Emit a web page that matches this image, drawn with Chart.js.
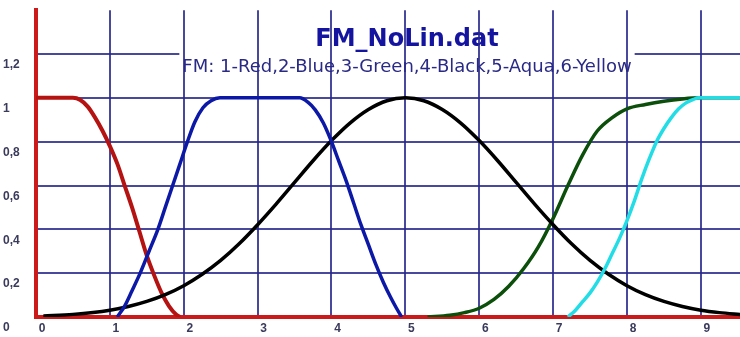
<!DOCTYPE html>
<html>
<head>
<meta charset="utf-8">
<title>FM_NoLin.dat</title>
<script src="https://cdn.jsdelivr.net/npm/chart.js@4.4.1/dist/chart.umd.min.js"></script>
<style>
  html, body { margin: 0; padding: 0; background: #fff; }
  #wrap { width: 740px; height: 337px; position: relative; }
</style>
</head>
<body>
<div id="wrap"><canvas id="fmChart"></canvas></div>
<script>
// membership functions (x -> degree)
const redX = [0, 0.5, 0.6, 0.7, 0.8, 0.9, 1.0, 1.1, 1.2, 1.3, 1.4, 1.5, 1.6, 1.7, 1.8, 1.9, 1.95];
const redY = [1, 1, 0.99, 0.96, 0.91, 0.85, 0.78, 0.7, 0.6, 0.5, 0.39, 0.28, 0.19, 0.11, 0.05, 0.01, 0];

const blueX = [1.1, 1.2, 1.3, 1.41, 1.53, 1.65, 1.75, 1.85, 1.95, 2.05, 2.15, 2.26, 2.37, 2.49,
               3.57, 3.68, 3.78, 3.89, 4.0, 4.1, 4.2, 4.3, 4.4, 4.5, 4.6, 4.7, 4.8, 4.88, 4.95];
const blueY = [0, 0.05, 0.12, 0.2, 0.3, 0.4, 0.5, 0.6, 0.7, 0.8, 0.89, 0.955, 0.987, 1,
               1, 0.98, 0.945, 0.885, 0.8, 0.71, 0.62, 0.52, 0.42, 0.33, 0.24, 0.16, 0.09, 0.04, 0];

const blackX = [0.1, 0.5, 1, 1.25, 1.5, 1.75, 2, 2.25, 2.5, 2.75, 3, 3.25, 3.5, 3.75, 4, 4.25, 4.5, 4.75, 5,
                5.25, 5.5, 5.75, 6, 6.25, 6.5, 6.75, 7, 7.25, 7.5, 7.75, 8, 8.25, 8.5, 8.75, 9, 9.25, 9.55];
const blackY = [0.005, 0.012, 0.031, 0.048, 0.071, 0.102, 0.143, 0.195, 0.258, 0.334, 0.421, 0.515, 0.614, 0.713, 0.805, 0.885, 0.947, 0.987, 1,
                0.987, 0.947, 0.885, 0.805, 0.713, 0.614, 0.515, 0.421, 0.334, 0.258, 0.195, 0.143, 0.102, 0.071, 0.048, 0.031, 0.02, 0.011];

const greenX = [5.3, 5.6, 5.8, 6.0, 6.2, 6.4, 6.6, 6.8, 7.0, 7.2, 7.4, 7.6, 7.8, 8.0, 8.25, 8.5, 8.75, 9.0, 9.55];
const greenY = [0, 0.008, 0.02, 0.04, 0.08, 0.14, 0.22, 0.32, 0.45, 0.6, 0.74, 0.85, 0.91, 0.95, 0.97, 0.985, 0.995, 1, 1];

const aquaX = [7.2, 7.3, 7.4, 7.5, 7.6, 7.7, 7.8, 7.9, 8.0, 8.1, 8.2, 8.3, 8.4, 8.5, 8.6, 8.7, 8.8, 8.9, 8.97, 9.55];
const aquaY = [0, 0.03, 0.07, 0.11, 0.16, 0.22, 0.29, 0.36, 0.44, 0.53, 0.63, 0.72, 0.8, 0.86, 0.91, 0.95, 0.977, 0.993, 1, 1];

const xRange = [0, 9.53];
const yRange = [0, 1.4];
const titleText = 'FM_NoLin.dat';
const subtitleText = 'FM: 1-Red,2-Blue,3-Green,4-Black,5-Aqua,6-Yellow';

const gridColor = 'rgba(40, 40, 140, 0.85)';
const axisRed = '#cc1a1a';

function pts(xs, ys) {
    return xs.map((x, i) => ({ x: x, y: ys[i] }));
}

function curve(label, xs, ys, color, width, order) {
    return {
        label: label,
        data: pts(xs, ys),
        borderColor: color,
        borderWidth: width,
        pointRadius: 0,
        fill: false,
        cubicInterpolationMode: 'monotone',
        order: order
    };
}

// title + legend text sit inside the plot; the 1,2 gridline stops where the legend text is
const fmTitle = {
    id: 'fmTitle',
    beforeDraw(chart) {
        const { ctx, chartArea, scales } = chart;
        const cx = 407;
        const y12 = scales.y.getPixelForValue(1.2);
        ctx.save();
        ctx.font = '18px "DejaVu Sans"';
        const w = ctx.measureText(subtitleText).width;
        ctx.strokeStyle = gridColor;
        ctx.lineWidth = 2;
        ctx.beginPath();
        ctx.moveTo(chartArea.left, y12);
        ctx.lineTo(cx - w / 2 - 3, y12);
        ctx.moveTo(cx + w / 2 + 3, y12);
        ctx.lineTo(chartArea.right, y12);
        ctx.stroke();

        ctx.textAlign = 'center';
        ctx.textBaseline = 'alphabetic';
        ctx.fillStyle = '#2a2a86';
        ctx.fillText(subtitleText, cx, 72);
        ctx.font = 'bold 24px "DejaVu Sans"';
        ctx.fillStyle = '#1414a0';
        ctx.fillText(titleText, cx, 46);
        ctx.restore();
    }
};

const tickFont = { family: '"Liberation Sans", Arial, sans-serif', size: 12, weight: 'bold' };

new Chart(document.getElementById('fmChart'), {
    type: 'line',
    data: {
        datasets: [
            curve('1-Red', redX, redY, '#b51212', 4, 5),
            curve('3-Green', greenX, greenY, '#0b4f0b', 3.5, 4),
            curve('2-Blue', blueX, blueY, '#0c18a6', 3.5, 2),
            curve('4-Black', blackX, blackY, '#000000', 3.5, 3),
            curve('5-Aqua', aquaX, aquaY, '#22dde6', 3.5, 1)
        ]
    },
    options: {
        responsive: true,
        maintainAspectRatio: false,
        animation: false,
        devicePixelRatio: 1,
        layout: { padding: { left: 3, right: 0, top: 8, bottom: 0 } },
        plugins: {
            legend: { display: false },
            tooltip: { enabled: false }
        },
        scales: {
            x: {
                type: 'linear',
                min: xRange[0],
                max: xRange[1],
                afterFit: (s) => { s.height = 20; },
                grid: { color: gridColor, lineWidth: 2, drawTicks: false },
                border: { color: axisRed, width: 4 },
                ticks: {
                    stepSize: 1,
                    includeBounds: false,
                    maxRotation: 0,
                    padding: 4,
                    labelOffset: 6,
                    color: '#3a3a5c',
                    font: tickFont
                }
            },
            y: {
                min: yRange[0],
                max: yRange[1],
                afterFit: (s) => { s.width = 33; },
                grid: {
                    color: (c) => (c.tick && c.tick.value > 1.1) ? 'rgba(0,0,0,0)' : gridColor,
                    lineWidth: 2,
                    drawTicks: false
                },
                border: { color: axisRed, width: 4 },
                ticks: {
                    stepSize: 0.2,
                    includeBounds: false,
                    crossAlign: 'far',
                    labelOffset: 11,
                    color: '#3a3a5c',
                    font: tickFont,
                    callback: (v) => v > 1.3 ? '' : String(Math.round(v * 10) / 10).replace('.', ',')
                }
            }
        }
    },
    plugins: [fmTitle]
});
</script>
</body>
</html>
